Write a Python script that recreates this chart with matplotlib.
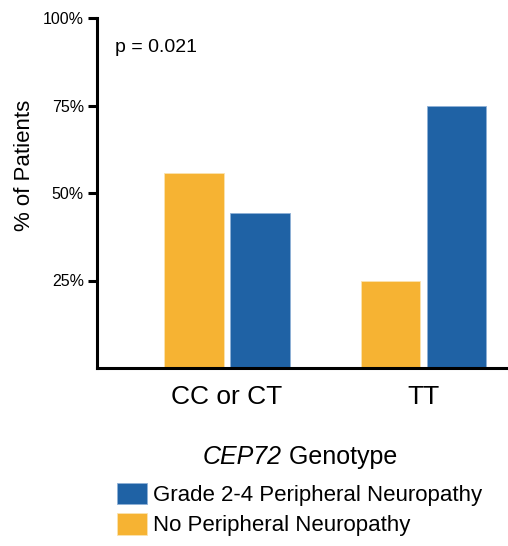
import numpy as np
import matplotlib.pyplot as plt
from matplotlib.patches import Patch

plt.rcParams["font.family"] = ["Liberation Sans", "DejaVu Sans"]

# ---- data ----
genotypes = ["CC or CT", "TT"]
no_pn = [55.6, 25.0]        # No Peripheral Neuropathy
grade_pn = [44.4, 75.0]     # Grade 2-4 Peripheral Neuropathy
yticks = [25, 50, 75, 100]
ytick_labels = ["25%", "50%", "75%", "100%"]

BLUE, ORANGE = "#1F62A5", "#F6B333"
W, H = 508, 546

fig = plt.figure(figsize=(W / 100, H / 100), dpi=100)
ax = fig.add_axes([97 / W, 1 - 368 / H, 1 - 97 / W, 350 / H])

x = np.arange(len(genotypes))
w = 0.305
off = 0.168
ax.bar(x - off, no_pn, width=w, color=ORANGE, edgecolor="#fbe3b0", linewidth=0.6, zorder=2)
ax.bar(x + off, grade_pn, width=w, color=BLUE, edgecolor="#8fb0d6", linewidth=0.6, zorder=2)

ax.set_xlim(-0.662, 1.43)
ax.set_ylim(0, 100)
ax.set_yticks(yticks)
ax.set_yticklabels(ytick_labels, fontsize=11.5)
ax.set_xticks(x)
ax.set_xticklabels(genotypes, fontsize=19)
ax.tick_params(axis="x", length=0, pad=12)
ax.tick_params(axis="y", length=6.5, width=2.2, pad=3)
for s in ("top", "right"):
    ax.spines[s].set_visible(False)
for s in ("left", "bottom"):
    ax.spines[s].set_linewidth(2.2)

ax.set_ylabel("% of Patients", fontsize=16)
ax.yaxis.set_label_coords((35 - 97) / 411, (368 - 165) / 350)

ax.text((115 - 97) / 411, (368 - 47) / 350, "p = 0.021", fontsize=14,
        va="center", ha="left", transform=ax.transAxes)

# legend title: italic gene name + regular word, centred as one line
fig.canvas.draw()
r = fig.canvas.get_renderer()
t1 = fig.text(0, 1 - 457 / H, "CEP72", fontsize=18, style="italic", va="center")
t2 = fig.text(0, 1 - 457 / H, " Genotype", fontsize=18, va="center")
w1 = t1.get_window_extent(r).width
w2 = t2.get_window_extent(r).width
x0 = 300 - (w1 + w2) / 2
t1.set_x(x0 / W)
t2.set_x((x0 + w1) / W)

handles = [Patch(facecolor=BLUE, edgecolor="#8fb0d6", linewidth=0.6),
           Patch(facecolor=ORANGE, edgecolor="#fbe3b0", linewidth=0.6)]
fig.legend(handles, ["Grade 2-4 Peripheral Neuropathy", "No Peripheral Neuropathy"],
           loc="upper left", bbox_to_anchor=(110 / W, 1 - 476 / H),
           frameon=False, fontsize=16, handlelength=1.35, handleheight=1.13,
           handletextpad=0.3, labelspacing=0.3, borderaxespad=0, borderpad=0.3)

fig.savefig("out.png", dpi=100, facecolor="white")
